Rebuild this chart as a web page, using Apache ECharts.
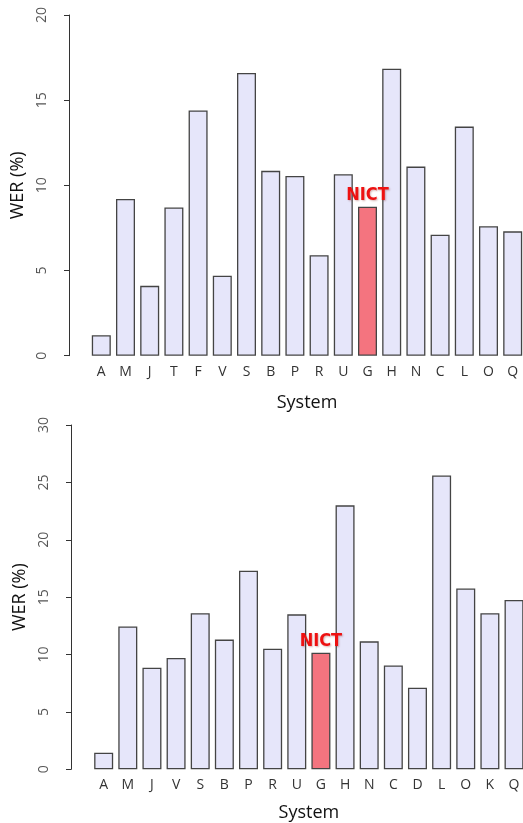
<!DOCTYPE html>
<html>
<head>
<meta charset="utf-8">
<script src="https://cdn.jsdelivr.net/npm/echarts@6/dist/echarts.min.js"></script>
<style>
  html, body {margin: 0; padding: 0; background: #fff;}
  #chart {width: 523px; height: 823px;}
</style>
</head>
<body>
<div id="chart"></div>
<script>
const topSystems = ['A', 'M', 'J', 'T', 'F', 'V', 'S', 'B', 'P', 'R', 'U', 'G', 'H', 'N', 'C', 'L', 'O', 'Q'];
const topWer = [1.2, 9.2, 4.1, 8.7, 14.4, 4.7, 16.6, 10.85, 10.55, 5.9, 10.65, 8.75, 16.85, 11.1, 7.1, 13.45, 7.6, 7.3];
const bottomSystems = ['A', 'M', 'J', 'V', 'S', 'B', 'P', 'R', 'U', 'G', 'H', 'N', 'C', 'D', 'L', 'O', 'K', 'Q'];
const bottomWer = [1.45, 12.45, 8.85, 9.7, 13.6, 11.3, 17.3, 10.5, 13.5, 10.15, 23.0, 11.15, 9.05, 7.1, 25.6, 15.75, 13.6, 14.75];
const highlight = 'G';
const highlightLabel = 'NICT';

const chart = echarts.init(document.getElementById('chart'));

function barData(systems, values) {
    return values.map((v, i) => {
        if (systems[i] === highlight) {
            return {
                value: v,
                itemStyle: {color: '#f4747f'},
                label: {
                    show: true, position: 'top', distance: 2, formatter: highlightLabel,
                    color: '#ee1111', fontWeight: 'bold', fontSize: 18, fontFamily: 'DejaVu Sans Condensed',
                    textShadowColor: 'rgba(120,0,0,0.3)', textShadowBlur: 2, textShadowOffsetX: 1, textShadowOffsetY: 1
                }
            };
        }
        return v;
    });
}

function xAxisFor(idx, systems, gap) {
    return {
        type: 'category', gridIndex: idx, data: systems,
        axisLine: {show: false}, axisTick: {show: false},
        axisLabel: {color: '#333', fontSize: 14, margin: 9, fontFamily: 'Open Sans', interval: 0},
        name: 'System', nameLocation: 'middle', nameGap: gap,
        nameTextStyle: {color: '#111', fontSize: 18, fontFamily: 'Open Sans'}
    };
}

function yAxisFor(idx, max, offset) {
    return {
        type: 'value', gridIndex: idx, min: 0, max: max, interval: 5, offset: offset,
        axisLine: {show: true, lineStyle: {color: '#333', width: 1}},
        axisTick: {show: true, length: 5, lineStyle: {color: '#333'}},
        splitLine: {show: false},
        axisLabel: {color: '#555', fontSize: 14, rotate: 90, margin: 20, fontFamily: 'Open Sans'},
        name: 'WER (%)', nameLocation: 'middle', nameGap: 34,
        nameTextStyle: {color: '#111', fontSize: 18, fontFamily: 'Open Sans'}
    };
}

chart.setOption({
    animation: false,
    grid: [
        {left: 89.2, top: 15, width: 435.6, height: 340.7, outerBoundsMode: 'none'},
        {left: 91.6, top: 425, width: 434.5, height: 344.3, outerBoundsMode: 'none'}
    ],
    xAxis: [xAxisFor(0, topSystems, 38), xAxisFor(1, bottomSystems, 35)],
    yAxis: [yAxisFor(0, 20, 20.2), yAxisFor(1, 30, 20.6)],
    series: [
        {
            type: 'bar', xAxisIndex: 0, yAxisIndex: 0, data: barData(topSystems, topWer),
            barWidth: 19, itemStyle: {color: '#e6e6fa', borderColor: '#444', borderWidth: 1.3}
        },
        {
            type: 'bar', xAxisIndex: 1, yAxisIndex: 1, data: barData(bottomSystems, bottomWer),
            barWidth: 19, itemStyle: {color: '#e6e6fa', borderColor: '#444', borderWidth: 1.3}
        }
    ]
});
</script>
</body>
</html>
